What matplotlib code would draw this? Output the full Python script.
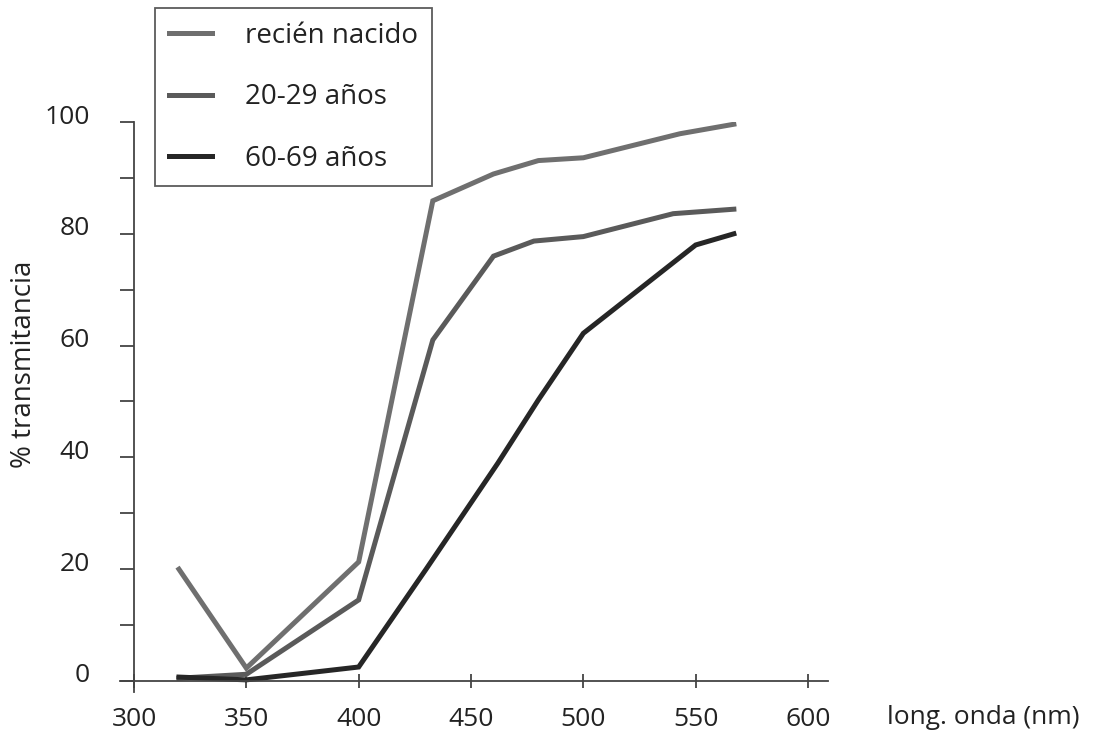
import matplotlib.pyplot as plt
from matplotlib.transforms import ScaledTranslation

plt.rcParams['font.family'] = ['Open Sans', 'DejaVu Sans']

# longitud de onda (nm)
wl_nacido = [320, 350, 400, 433, 460, 480, 500, 543, 567]
t_nacido = [20.0, 2.3, 21.3, 85.9, 90.7, 93.1, 93.6, 97.9, 99.6]

wl_20 = [320, 350, 400, 433, 460, 478, 500, 540, 567]
t_20 = [0.5, 1.2, 14.5, 61.0, 76.0, 78.7, 79.5, 83.6, 84.4]

wl_60 = [320, 350, 400, 430, 462, 480, 500, 550, 567]
t_60 = [0.7, 0.2, 2.5, 20.0, 39.0, 50.3, 62.2, 78.0, 80.0]

labels = ['recién nacido', '20-29 años', '60-69 años']
colors = ['#6f6f6f', '#5a5a5a', '#262626']

fig = plt.figure(figsize=(10.99, 7.33), dpi=100)
ax = fig.add_axes([120/1099, 41/733, 708/1099, 570/733])

ax.plot(wl_nacido, t_nacido, color=colors[0], lw=3.6, label=labels[0], solid_joinstyle='miter')
ax.plot(wl_20, t_20, color=colors[1], lw=3.6, label=labels[1], solid_joinstyle='miter')
ax.plot(wl_60, t_60, color=colors[2], lw=3.6, label=labels[2], solid_joinstyle='miter')

ax.set_xlim(293.77, 608.9)
ax.set_ylim(-1.97, 100)

axc = '#444444'
txc = '#222222'
for s in ['top', 'right']:
    ax.spines[s].set_visible(False)
ax.spines['left'].set_position(('data', 300))
ax.spines['bottom'].set_position(('data', 0))
for s in ['left', 'bottom']:
    ax.spines[s].set_color(axc)
    ax.spines[s].set_linewidth(1.3)

ax.set_xticks([300, 350, 400, 450, 500, 550, 600])
ax.set_yticks([0, 20, 40, 60, 80, 100])
ax.set_yticks([10, 30, 50, 70, 90], minor=True)
ax.tick_params(axis='x', direction='inout', length=10, width=1.3, color=axc,
               labelsize=19, labelcolor=txc, pad=14)
ax.tick_params(axis='y', which='both', direction='out', length=10, width=1.3, color=axc,
               labelsize=19, labelcolor=txc, pad=22)

# labels of the y axis sit a little above their ticks
for lab in ax.get_yticklabels():
    lab.set_transform(lab.get_transform() + ScaledTranslation(0, 0.08, fig.dpi_scale_trans))

fig.text(24/1099, 1 - 364/733, '% transmitancia', rotation=90, ha='center', va='center',
         fontsize=20, color=txc)
fig.text(887/1099, 1 - 718/733, 'long. onda (nm)', ha='left', va='center',
         fontsize=19, color=txc)

leg = ax.legend(loc='upper left', bbox_to_anchor=(155/1099, 1 - 8/733),
                bbox_transform=fig.transFigure, borderaxespad=0, frameon=True,
                fancybox=False, edgecolor='#333333', fontsize=20, labelspacing=1.2,
                handlelength=1.55, handletextpad=1.2, borderpad=0.5)
leg.get_frame().set_linewidth(1.3)
for t in leg.get_texts():
    t.set_color(txc)

fig.savefig('out.png', dpi=100)
